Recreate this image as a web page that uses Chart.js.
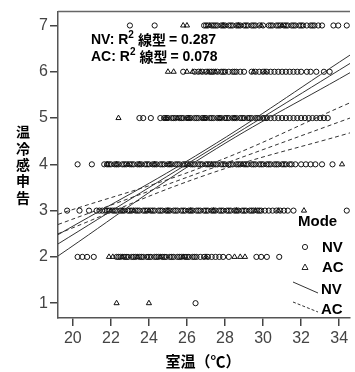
<!DOCTYPE html>
<html>
<head>
<meta charset="utf-8">
<script src="https://cdn.jsdelivr.net/npm/chart.js@4"></script>
<style>
  html, body { margin: 0; padding: 0; background: #fff; overflow: hidden; }
  canvas { display: block; }
</style>
</head>
<body>
<canvas id="chart" width="355" height="372"></canvas>
<script>
/* ─── Data ─── */
const xTicks = [20, 22, 24, 26, 28, 30, 32, 34];
const yTicks = [1, 2, 3, 4, 5, 6, 7];

// room temperature of each vote, per thermal sensation level
const nv7 = [23.0, 24.3, 26.9, 27.0, 27.1, 27.3, 27.4, 27.5, 27.6, 27.8, 27.9, 28.0, 28.2, 28.3, 28.4, 28.6, 28.7, 28.8, 29.0, 29.1, 29.2, 29.4, 29.5, 29.6, 29.8, 30.0, 30.3, 30.4, 30.5, 30.7, 30.8, 30.9, 31.1, 31.2, 31.3, 31.5, 31.6, 31.7, 31.9, 32.0, 32.1, 32.3, 32.5, 32.6, 32.7, 32.9, 33.1, 33.7, 33.95, 34.4];
const ac7 = [25.8, 26.0, 27.2, 27.9, 28.7, 29.9, 31.0];
const nv6 = [25.8, 26.4, 26.6, 26.8, 27.0, 27.2, 27.3, 27.4, 27.6, 27.8, 27.9, 28.0, 28.2, 28.4, 28.5, 28.6, 28.8, 29.0, 29.4, 29.6, 29.8, 30.0, 30.2, 30.4, 30.6, 30.8, 31.0, 31.2, 31.4, 31.6, 31.8, 32.0, 32.3, 32.5, 32.8, 33.2, 33.5];
const ac6 = [25.0, 25.3, 26.0, 26.3, 26.7, 27.1, 27.5, 29.5, 30.1];
const nv5 = [23.5, 23.7, 24.1, 24.6, 24.8, 24.9, 25.0, 25.2, 25.3, 25.4, 25.6, 25.7, 25.8, 26.0, 26.1, 26.2, 26.4, 26.5, 26.6, 26.8, 26.9, 27.0, 27.2, 27.3, 27.4, 27.6, 27.7, 27.8, 28.0, 28.1, 28.2, 28.4, 28.5, 28.6, 28.8, 28.9, 29.0, 29.2, 29.3, 29.4, 29.6, 29.7, 29.8, 30.0, 30.1, 30.2, 30.4, 30.6, 30.8, 31.0, 31.2, 31.4, 31.6, 31.8, 32.0, 32.2, 32.4, 32.6, 32.8, 33.0, 33.2, 33.4];
const ac5 = [22.4, 24.9, 25.5, 26.1, 26.9, 27.7, 28.5];
const nv4 = [20.25, 21.0, 21.65, 21.8, 21.9, 22.0, 22.2, 22.3, 22.4, 22.6, 22.7, 22.8, 23.0, 23.1, 23.2, 23.4, 23.5, 23.6, 23.8, 23.9, 24.0, 24.2, 24.3, 24.4, 24.6, 24.7, 24.8, 25.0, 25.1, 25.2, 25.4, 25.5, 25.6, 25.8, 25.9, 26.0, 26.2, 26.3, 26.4, 26.6, 26.7, 26.8, 27.0, 27.1, 27.2, 27.4, 27.5, 27.6, 27.8, 27.9, 28.0, 28.2, 28.3, 28.4, 28.6, 28.7, 28.8, 29.0, 29.1, 29.2, 29.4, 29.5, 29.6, 29.8, 29.9, 30.0, 30.2, 30.3, 30.4, 30.6, 30.7, 30.8, 31.0, 31.1, 31.2, 31.4, 31.5, 31.7, 32.0, 32.25, 32.5, 32.75, 33.1, 33.65];
const ac4 = [21.8, 22.3, 22.9, 23.5, 24.3, 25.1, 26.1, 27.3, 28.9, 34.15];
const nv3 = [19.7, 20.35, 20.85, 21.25, 21.4, 21.55, 21.7, 21.8, 21.9, 22.1, 22.2, 22.3, 22.5, 22.6, 22.7, 22.9, 23.0, 23.1, 23.3, 23.4, 23.5, 23.7, 23.8, 23.9, 24.1, 24.2, 24.3, 24.5, 24.6, 24.7, 24.9, 25.0, 25.1, 25.3, 25.4, 25.5, 25.7, 25.8, 25.9, 26.1, 26.2, 26.3, 26.5, 26.6, 26.7, 26.9, 27.0, 27.1, 27.3, 27.4, 27.5, 27.7, 27.8, 27.9, 28.1, 28.2, 28.3, 28.5, 28.6, 28.7, 28.9, 29.0, 29.1, 29.3, 29.4, 29.5, 29.7, 29.8, 29.9, 30.1, 30.3, 30.5, 30.7, 30.9, 31.1, 31.3, 31.6, 34.4];
const ac3 = [22.0, 22.6, 23.2, 24.0, 25.0, 26.2, 27.4, 28.6, 29.6, 30.8, 32.15];
const nv2 = [20.25, 20.5, 20.75, 21.1, 22.3, 22.4, 22.5, 22.7, 22.8, 22.9, 23.1, 23.2, 23.3, 23.5, 23.6, 23.7, 23.9, 24.0, 24.1, 24.3, 24.4, 24.5, 24.7, 24.8, 24.9, 25.1, 25.2, 25.3, 25.5, 25.6, 25.7, 25.9, 26.0, 26.1, 26.3, 26.4, 26.5, 26.7, 26.9, 27.1, 27.3, 27.5, 27.7, 27.9, 28.2, 29.65, 29.9, 30.2, 30.85];
const ac2 = [21.9, 22.1, 22.6, 23.4, 24.6, 25.8, 27.0, 28.5, 28.8, 29.05];
const nv1 = [26.45];
const ac1 = [22.3, 24.0];

// fit lines and their confidence bands
const lineX = [19.22, 27, 34.57];
const nvFit = [2.28, 4.26, 6.18];
const nvHi = [2.48, 4.32, 6.36];
const nvLo = [2.02, 4.2, 5.98];
const acFit = [2.7, 3.87, 5.0];
const acHi = [2.92, 3.97, 5.33];
const acLo = [2.5, 3.77, 4.68];

/* ─── Helpers ─── */
const FONT = '"Liberation Sans", "Noto Sans CJK JP", Arial, sans-serif';
const CJK = '"Noto Sans CJK JP", "Liberation Sans", sans-serif';

function rows(levels) {
  const pts = [];
  levels.forEach(([y, xs]) => xs.forEach((x) => pts.push({ x: x, y: y })));
  return pts;
}
const nvPoints = rows([[7, nv7], [6, nv6], [5, nv5], [4, nv4], [3, nv3], [2, nv2], [1, nv1]]);
const acPoints = rows([[7, ac7], [6, ac6], [5, ac5], [4, ac4], [3, ac3], [2, ac2], [1, ac1]]);
const toLine = (ys) => lineX.map((x, i) => ({ x: x, y: ys[i] }));

function lineSet(ys, dashed) {
  return {
    type: "line",
    data: toLine(ys),
    borderColor: "#333",
    borderWidth: 1,
    borderDash: dashed ? [4, 3] : [],
    pointRadius: 0,
    fill: false,
    tension: 0.4,
  };
}

/* ─── Extra drawing: frame top, titles, fit text, legend ─── */
const decor = {
  id: "decor",
  afterDraw(chart) {
    const c = chart.ctx;
    const a = chart.chartArea;
    c.save();
    c.strokeStyle = "#666";
    c.lineWidth = 1.5;
    c.beginPath();
    c.moveTo(a.left, a.top);
    c.lineTo(a.right, a.top);
    c.stroke();

    c.fillStyle = "#000";
    c.textBaseline = "middle";

    // y title, stacked characters
    c.font = "bold 14px " + CJK;
    c.textAlign = "center";
    "温冷感申告".split("").forEach((ch, i) => c.fillText(ch, 23, 132 + i * 16.3));

    // x title
    c.font = "bold 15px " + CJK;
    c.fillText("室温（℃）", 203, 361);

    // fit text
    c.textAlign = "left";
    [["NV", "0.287", 40], ["AC", "0.078", 57]].forEach(([m, r, y]) => {
      let x = 91;
      c.font = "bold 14px " + FONT;
      c.fillText(m + ": R", x, y);
      x += c.measureText(m + ": R").width;
      c.font = "bold 10px " + FONT;
      c.fillText("2", x, y - 5);
      x += c.measureText("2").width + 4;
      c.font = "bold 14px " + CJK;
      c.fillText("線型", x, y);
      x += c.measureText("線型").width + 3;
      c.font = "bold 14px " + FONT;
      c.fillText("= " + r, x, y);
    });

    // legend
    c.font = "bold 15px " + FONT;
    c.fillText("Mode", 298, 222);
    c.fillText("NV", 322, 248);
    c.fillText("AC", 322, 268);
    c.fillText("NV", 321, 290);
    c.fillText("AC", 321, 310);

    c.strokeStyle = "#222";
    c.lineWidth = 1;
    c.beginPath();
    c.arc(305, 247, 2.6, 0, Math.PI * 2);
    c.stroke();
    c.beginPath();
    c.moveTo(305, 264);
    c.lineTo(308, 269.5);
    c.lineTo(302, 269.5);
    c.closePath();
    c.stroke();

    c.strokeStyle = "#333";
    c.beginPath();
    c.moveTo(293, 282);
    c.lineTo(318, 293);
    c.stroke();
    c.setLineDash([3, 2]);
    c.beginPath();
    c.moveTo(293, 302);
    c.lineTo(318, 312);
    c.stroke();
    c.restore();
  },
};

/* ─── Chart ─── */
const ctx = document.getElementById("chart");
new Chart(ctx, {
  type: "scatter",
  data: {
    datasets: [
      lineSet(nvLo, false),
      lineSet(nvFit, false),
      lineSet(nvHi, false),
      lineSet(acLo, true),
      lineSet(acFit, true),
      lineSet(acHi, true),
      {
        label: "NV",
        data: nvPoints,
        pointStyle: "circle",
        pointRadius: 2.6,
        borderColor: "#111",
        borderWidth: 1,
        backgroundColor: "rgba(255,255,255,0)",
      },
      {
        label: "AC",
        data: acPoints,
        pointStyle: "triangle",
        pointRadius: 3,
        borderColor: "#111",
        borderWidth: 1,
        backgroundColor: "rgba(255,255,255,0)",
      },
    ],
  },
  options: {
    responsive: false,
    animation: false,
    layout: { padding: { top: 11, right: 0, left: 0, bottom: 0 } },
    plugins: {
      legend: { display: false },
      tooltip: { enabled: false },
    },
    scales: {
      x: {
        type: "linear",
        min: 19.22,
        max: 34.57,
        afterBuildTicks: (s) => { s.ticks = xTicks.map((v) => ({ value: v })); },
        afterFit: (s) => { s.height = 54; },
        grid: { drawOnChartArea: false, tickLength: 8, color: "#444", lineWidth: 1.5 },
        border: { color: "#555", width: 1.5 },
        ticks: { color: "#444", padding: 3, maxRotation: 0, font: { size: 16, family: FONT } },
      },
      y: {
        type: "linear",
        min: 0.68,
        max: 7.3,
        afterBuildTicks: (s) => { s.ticks = yTicks.map((v) => ({ value: v })); },
        afterFit: (s) => { s.width = 58; },
        grid: { drawOnChartArea: false, tickLength: 8, color: "#444", lineWidth: 1.5 },
        border: { color: "#555", width: 1.5 },
        ticks: { color: "#444", padding: 2, font: { size: 16, family: FONT } },
      },
    },
  },
  plugins: [decor],
});
</script>
</body>
</html>
